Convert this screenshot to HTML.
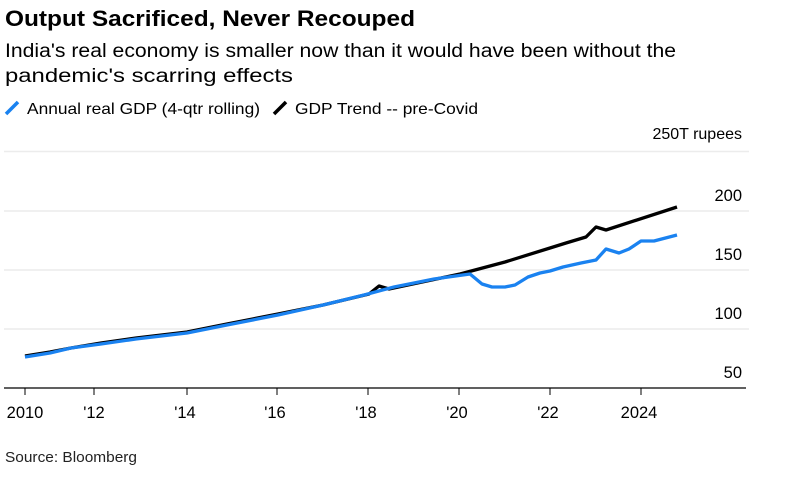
<!DOCTYPE html>
<html><head><meta charset="utf-8"><style>
body{margin:0;width:787px;height:480px;background:#fff;font-family:"Liberation Sans",Arial,sans-serif;overflow:hidden}
</style></head><body>
<svg width="787" height="480" xmlns="http://www.w3.org/2000/svg" font-family="Liberation Sans, Arial, sans-serif">
<text x="5" y="26" font-size="22" font-weight="bold" fill="#000" textLength="410" lengthAdjust="spacingAndGlyphs">Output Sacrificed, Never Recouped</text>
<text x="5" y="57" font-size="19" fill="#000" textLength="671" lengthAdjust="spacingAndGlyphs">India's real economy is smaller now than it would have been without the</text>
<text x="5" y="82" font-size="19" fill="#000" textLength="288" lengthAdjust="spacingAndGlyphs">pandemic's scarring effects</text>
<line x1="6" y1="114" x2="18" y2="102" stroke="#1a82f0" stroke-width="3.5"/>
<text x="27" y="114" font-size="16" fill="#000" textLength="233" lengthAdjust="spacingAndGlyphs">Annual real GDP (4-qtr rolling)</text>
<line x1="274" y1="114" x2="286" y2="102" stroke="#000" stroke-width="3.5"/>
<text x="295" y="114" font-size="16" fill="#000" textLength="183" lengthAdjust="spacingAndGlyphs">GDP Trend -- pre-Covid</text>
<text x="742" y="139" font-size="16" text-anchor="end" fill="#000">250T rupees</text>
<g stroke="#ececec" stroke-width="1.5">
<line x1="4" y1="151.5" x2="749" y2="151.5"/>
<line x1="4" y1="211" x2="749" y2="211"/>
<line x1="4" y1="270" x2="749" y2="270"/>
<line x1="4" y1="329" x2="749" y2="329"/>
</g>
<g font-size="16.5" text-anchor="end" fill="#000">
<text x="742" y="201">200</text>
<text x="742" y="260">150</text>
<text x="742" y="319">100</text>
<text x="742" y="378">50</text>
</g>
<line x1="4" y1="388" x2="746" y2="388" stroke="#000" stroke-width="1.2"/>
<g stroke="#000" stroke-width="1">
<line x1="25" y1="388" x2="25" y2="395"/><line x1="94" y1="388" x2="94" y2="395"/>
<line x1="187" y1="388" x2="187" y2="395"/><line x1="277" y1="388" x2="277" y2="395"/>
<line x1="368" y1="388" x2="368" y2="395"/><line x1="459" y1="388" x2="459" y2="395"/>
<line x1="550" y1="388" x2="550" y2="395"/><line x1="641" y1="388" x2="641" y2="395"/>
</g>
<g font-size="16.5" text-anchor="middle" fill="#000">
<text x="25" y="418">2010</text><text x="94" y="418">'12</text><text x="185" y="418">'14</text>
<text x="275" y="418">'16</text><text x="366" y="418">'18</text><text x="457" y="418">'20</text>
<text x="548" y="418">'22</text><text x="639" y="418">2024</text>
</g>
<polyline fill="none" stroke="#000" stroke-width="3.3" stroke-linejoin="round" points="25,356 50,352 71,348 101,343 136,338 187,332 227,324 278,314 323,305 369,294 379,286 389,289 460,274 505,262 550,248 566,243 586,237 596,227 606,230 677,207"/>
<polyline fill="none" stroke="#1a82f0" stroke-width="3.3" stroke-linejoin="round" points="25,357 50,353 71,348 101,344 136,339 187,333 227,325 278,315 323,305 364,295 394,287 434,279 470,274 482,284 492,287 505,287 515,285 528,277 540,273 550,271 563,267 581,263 596,260 606,249 619,253 629,249 641,241 654,241 677,235"/>
<text x="5" y="462" font-size="15" fill="#222" textLength="132" lengthAdjust="spacingAndGlyphs">Source: Bloomberg</text>
</svg>
</body></html>
